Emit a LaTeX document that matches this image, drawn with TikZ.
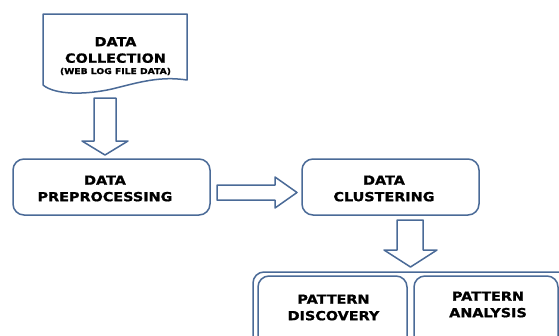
\documentclass[tikz,border=0pt]{standalone}
\usepackage{fontspec}
\setmainfont{DejaVu Sans}[FakeStretch=1.15, BoldFeatures={FakeBold=1.2}]
\definecolor{edge}{HTML}{4A6A97}
\tikzset{
  x=1pt, y=-1pt,
  shape line/.style={draw=edge, line width=1.5pt, fill=white, line join=round},
  boxst/.style={shape line, rounded corners=11pt},
  lbl/.style={align=center, font=\bfseries\fontsize{12.5}{16.5}\selectfont, inner sep=0pt},
  small/.style={font=\bfseries\fontsize{8}{10}\selectfont, inner sep=0pt}
}
\begin{document}
\begin{tikzpicture}
\useasboundingbox (0,0) rectangle (559,335);
\clip (0,0) rectangle (559,335);
% document shape
\draw[shape line] (43,14) -- (187,14) -- (187,80)
  .. controls (160,76) and (140,82) .. (112,89)
  .. controls (85,95) and (55,95) .. (43,85) -- cycle;
\node[lbl] (collect) at (115.5,50) {DATA\\COLLECTION};
\node[small] (web) at (115.5,71.5) {(WEB LOG FILE DATA)};
% arrow 1
\draw[shape line] (94,98) -- (116,98) -- (116,141) -- (128,141) -- (105,155) -- (82,141) -- (94,141) -- cycle;
% preprocessing
\draw[boxst] (13,159) rectangle (210,215);
\node[lbl] (pre) at (105,188.5) {DATA\\PREPROCESSING};
% arrow right
\draw[shape line] (217,185) -- (275,185) -- (275,177) -- (297,192.5) -- (275,208) -- (275,200) -- (217,200) -- cycle;
% clustering
\draw[boxst] (302,159) rectangle (479,215);
\node[lbl] (clu) at (384,188.5) {DATA\\CLUSTERING};
% arrow 2
\draw[shape line] (397,220) -- (423,220) -- (423,250) -- (437,250) -- (410.5,267) -- (384,250) -- (397,250) -- cycle;
% outer box
\draw[boxst] (253,272) rectangle (575,360);
\draw[boxst] (258,276) rectangle (407,360);
\draw[boxst] (414,276) rectangle (558,360);
\node[lbl] (disc) at (333.5,307.5) {PATTERN\\DISCOVERY};
\node[lbl] (ana) at (488,304.5) {PATTERN\\ANALYSIS};
\end{tikzpicture}
\end{document}
